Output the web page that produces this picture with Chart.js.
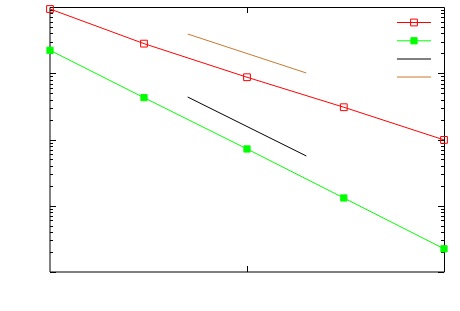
<!DOCTYPE html>
<html>
<head>
<meta charset="utf-8">
<title>Log-log convergence</title>
<script src="https://cdn.jsdelivr.net/npm/chart.js@4/dist/chart.umd.min.js"></script>
<style>
  html, body { margin: 0; padding: 0; background: #ffffff; }
  #wrap { width: 460px; height: 311px; position: relative; }
</style>
</head>
<body>
<div id="wrap"><canvas id="convergenceChart" width="460" height="311"></canvas></div>
<script>
// x positions shared by both measured series
const xValues = [1, 3, 10, 31, 100];
// measured series
const redValues = [0.933, 0.28, 0.0871, 0.0307, 0.00986];
const greenValues = [0.222, 0.0428, 0.0072, 0.00131, 0.000224];
// reference slopes (two end points each)
const refX = [5, 20];
const blackRef = [0.0438, 0.00564];
const orangeRef = [0.391, 0.1009];
// axis ranges / ticks
const xRange = [1, 100];
const yRange = [1e-4, 1];
const xMajorTicks = [10];
const yDecades = [1e-4, 1e-3, 1e-2, 1e-1, 1];

document.addEventListener("DOMContentLoaded", function () {
  initConvergenceChart();
});

function toPoints(xs, ys) {
  return xs.map((x, i) => ({ x: x, y: ys[i] }));
}

// frame and inward tick marks, gnuplot style
const framePlugin = {
  id: "frame",
  beforeDatasetsDraw(chart) {
    const ctx = chart.ctx;
    const a = chart.chartArea;
    const xs = chart.scales.x;
    const ys = chart.scales.y;
    ctx.save();
    ctx.strokeStyle = "#000000";
    ctx.lineWidth = 1;

    // ticks on y axis (left and right)
    ctx.beginPath();
    yDecades.forEach((d) => {
      for (let k = 1; k <= 9; k++) {
        const v = d * k;
        if (v > yRange[1] * 1.0001) continue;
        const py = Math.round(ys.getPixelForValue(v)) + 0.5;
        const len = k === 1 ? 6 : 3;
        ctx.moveTo(a.left, py);
        ctx.lineTo(a.left + len, py);
        ctx.moveTo(a.right, py);
        ctx.lineTo(a.right - len, py);
      }
    });
    // ticks on x axis (bottom and top)
    xMajorTicks.forEach((v) => {
      const px = Math.round(xs.getPixelForValue(v)) + 0.5;
      ctx.moveTo(px, a.bottom);
      ctx.lineTo(px, a.bottom - 6);
      ctx.moveTo(px, a.top);
      ctx.lineTo(px, a.top + 6);
    });
    ctx.stroke();

    // border
    ctx.beginPath();
    ctx.moveTo(a.left, a.bottom);
    ctx.lineTo(a.left, a.top + 0.5);
    ctx.moveTo(a.left, a.top + 0.5);
    ctx.lineTo(a.right + 0.5, a.top + 0.5);
    ctx.lineTo(a.right + 0.5, a.bottom);
    ctx.lineTo(a.left, a.bottom);
    ctx.stroke();
    ctx.restore();
  },
};

// key in the upper right corner, samples only (no text)
const keyPlugin = {
  id: "key",
  afterDraw(chart) {
    const ctx = chart.ctx;
    const rows = [22.5, 40.8, 59, 77];
    ctx.save();
    chart.data.datasets.forEach((ds, i) => {
      const y = rows[i];
      ctx.strokeStyle = ds.borderColor;
      ctx.lineWidth = 1;
      ctx.beginPath();
      ctx.moveTo(397, y);
      ctx.lineTo(431, y);
      ctx.stroke();
      if (ds.pointRadius > 0) {
        Chart.helpers.drawPoint(
          ctx,
          {
            pointStyle: "rect",
            radius: ds.pointRadius,
            borderWidth: 1,
          },
          414,
          y
        );
        ctx.fillStyle = ds.pointBackgroundColor;
        ctx.fill();
      }
    });
    ctx.restore();
  },
};

function initConvergenceChart() {
  const canvas = document.getElementById("convergenceChart");
  if (!canvas) {
    console.error("Chart canvas element not found");
    return;
  }

  window.convergenceChart = new Chart(canvas, {
    type: "scatter",
    data: {
      datasets: [
        {
          data: toPoints(xValues, redValues),
          showLine: true,
          borderColor: "#ff0000",
          borderWidth: 1,
          pointStyle: "rect",
          pointRadius: 4.8,
          pointBorderColor: "#ff0000",
          pointBackgroundColor: "rgba(0,0,0,0)",
          pointBorderWidth: 1,
          clip: false,
        },
        {
          data: toPoints(xValues, greenValues),
          showLine: true,
          borderColor: "#00ff00",
          borderWidth: 1,
          pointStyle: "rect",
          pointRadius: 4.4,
          pointBorderColor: "#00ff00",
          pointBackgroundColor: "#00ff00",
          pointBorderWidth: 1,
          clip: false,
        },
        {
          data: toPoints(refX, blackRef),
          showLine: true,
          borderColor: "#000000",
          borderWidth: 1,
          pointRadius: 0,
        },
        {
          data: toPoints(refX, orangeRef),
          showLine: true,
          borderColor: "#c87a30",
          borderWidth: 1,
          pointRadius: 0,
        },
      ],
    },
    options: {
      responsive: false,
      animation: false,
      events: [],
      layout: {
        padding: { left: 50, top: 7, right: 16, bottom: 39 },
      },
      scales: {
        x: {
          type: "logarithmic",
          min: xRange[0],
          max: xRange[1],
          display: false,
        },
        y: {
          type: "logarithmic",
          min: yRange[0],
          max: yRange[1],
          display: false,
        },
      },
      plugins: {
        legend: { display: false },
        tooltip: { enabled: false },
      },
    },
    plugins: [framePlugin, keyPlugin],
  });
}
</script>
</body>
</html>
